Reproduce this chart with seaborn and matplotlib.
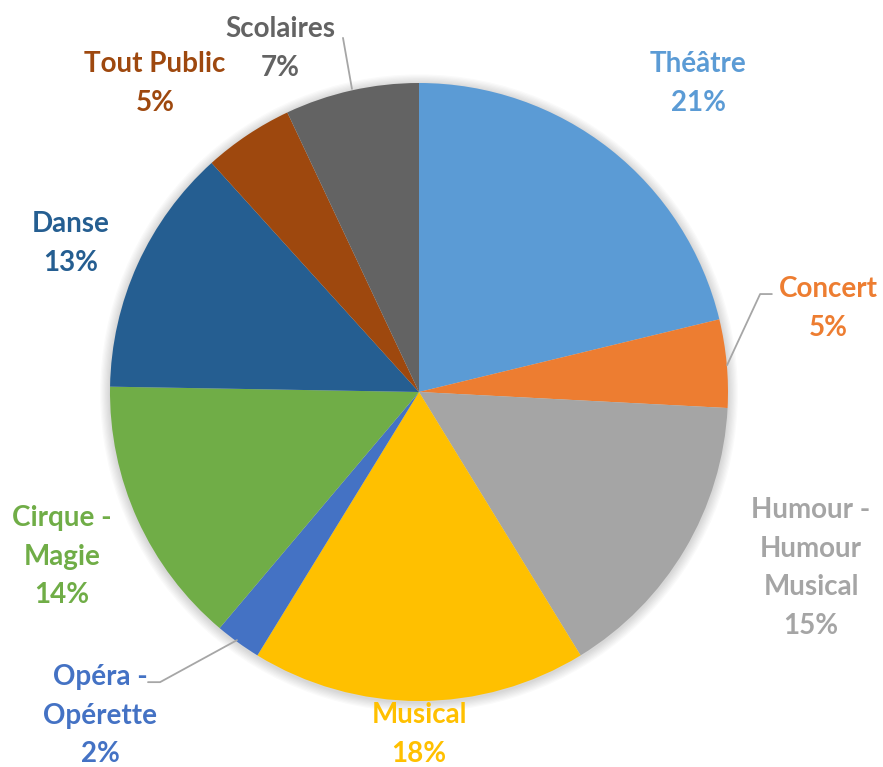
import matplotlib.pyplot as plt
import seaborn as sns
from matplotlib.patches import Circle

# data (share of shows by genre)
genres = ['Théâtre', 'Concert', 'Humour -\nHumour\nMusical', 'Musical',
          'Opéra -\nOpérette', 'Cirque -\nMagie', 'Danse', 'Tout Public', 'Scolaires']
shares = [21.2, 4.6, 15.4, 17.5, 2.4, 14.1, 13.0, 4.7, 7.0]
pct_labels = ['21%', '5%', '15%', '18%', '2%', '14%', '13%', '5%', '7%']
colors = ['#5B9BD5', '#ED7D31', '#A5A5A5', '#FFC000', '#4472C4',
          '#70AD47', '#255E91', '#9E480E', '#636363']

# label positions (pie radius = 1, centre = 0,0)
label_pos = [(0.903, 0.998), (1.324, 0.270), (1.269, -0.570), (0.0, -1.108),
             (-1.032, -1.048), (-1.155, -0.533), (-1.126, 0.480),
             (-0.854, 0.998), (-0.450, 1.111)]

sns.set_theme(style="white")
plt.rcParams['font.family'] = ['Lato', 'DejaVu Sans']

W, H, dpi = 883, 767, 100
cx, cy, r = 419, 392, 309
fig = plt.figure(figsize=(W / dpi, H / dpi), dpi=dpi)
ax = fig.add_axes([0, 0, 1, 1])

# soft shadow behind the pie
for i in range(8):
    ax.add_patch(Circle((0.0, -0.004), 1.0 + 0.004 * (i + 1), color='black',
                        alpha=0.018, lw=0, zorder=0))

ax.pie(shares, colors=colors, startangle=90, counterclock=False,
       radius=1.0, wedgeprops=dict(linewidth=0), frame=True)

for name, pct, col, (x, y) in zip(genres, pct_labels, colors, label_pos):
    ax.text(x, y, f"{name}\n{pct}", color=col, ha='center', va='center',
            fontsize=20, fontweight='bold', linespacing=1.6)

# leader lines
line_kw = dict(color='#A6A6A6', lw=1.3, zorder=3)
ax.plot([0.997, 1.104, 1.142], [0.087, 0.317, 0.317], **line_kw)
ax.plot([-0.589, -0.838, -0.877], [-0.803, -0.939, -0.939], **line_kw)
ax.plot([-0.217, -0.246], [0.981, 1.146], **line_kw)

ax.set_xlim(-cx / r, (W - cx) / r)
ax.set_ylim(-(H - cy) / r, cy / r)
ax.set_aspect('auto')
ax.axis('off')

fig.savefig('out.png', dpi=dpi)
